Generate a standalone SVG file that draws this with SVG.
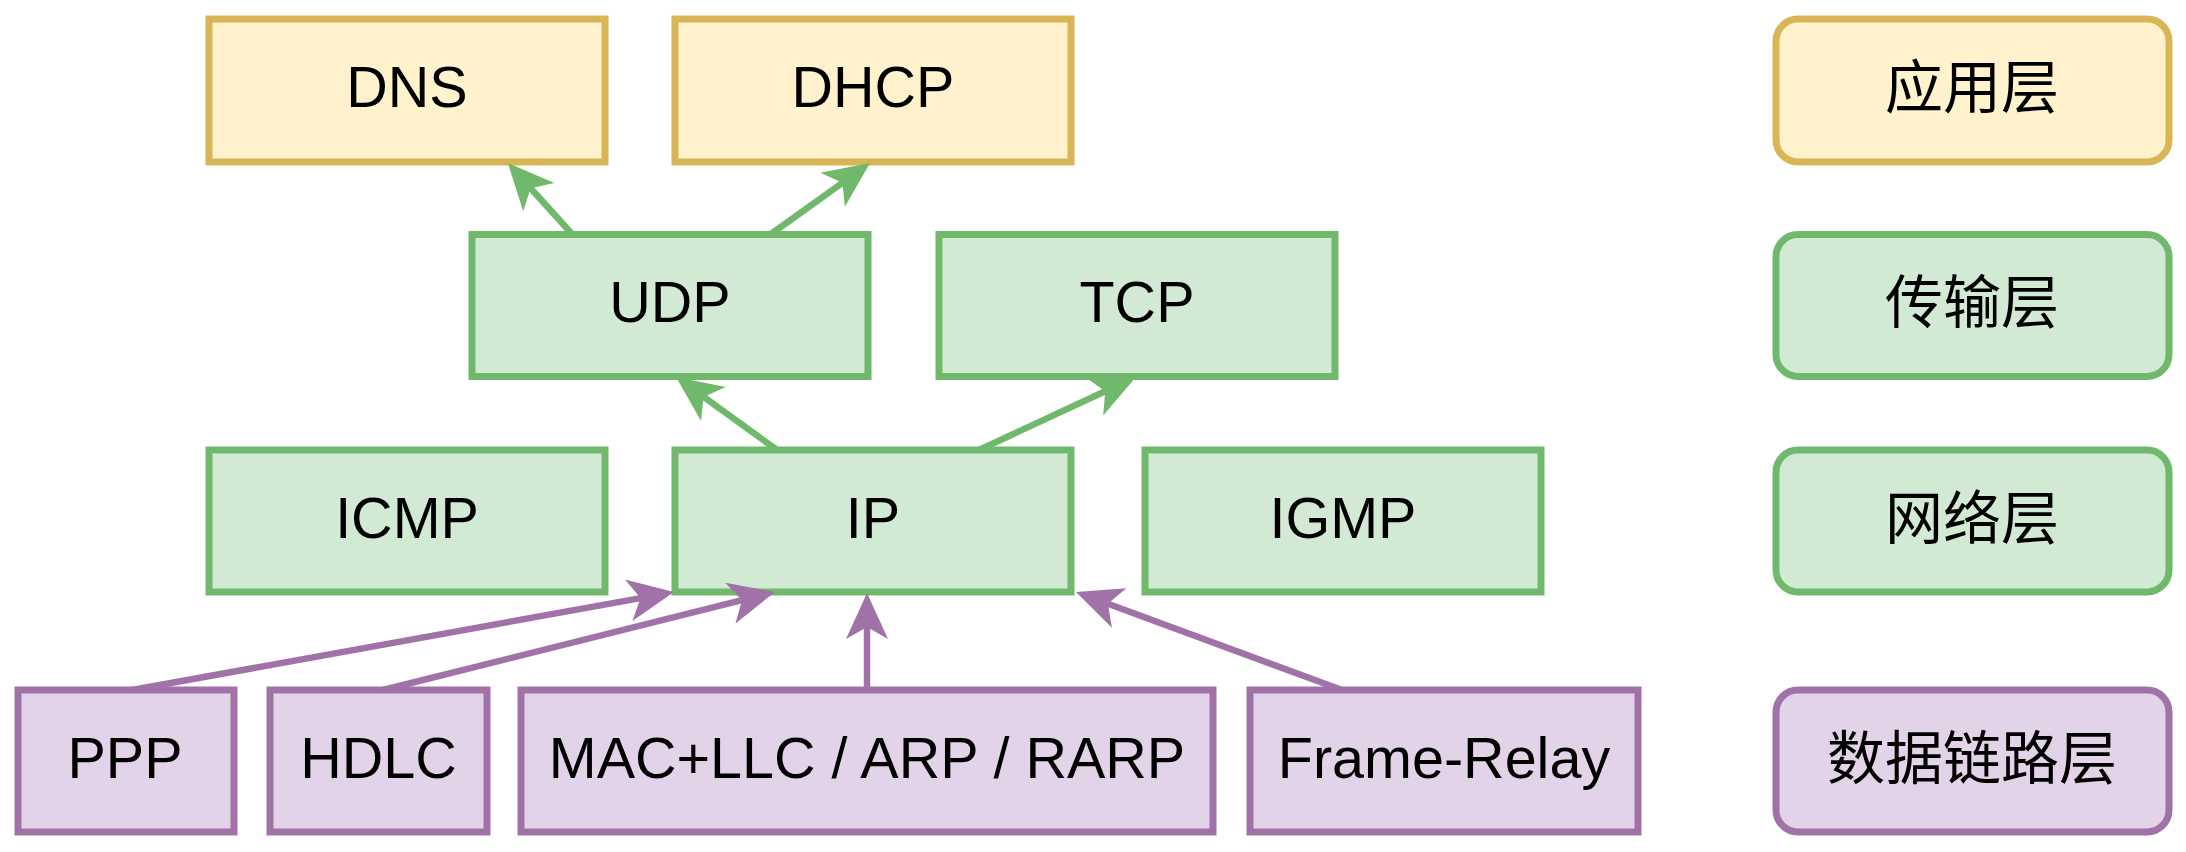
<svg xmlns="http://www.w3.org/2000/svg" width="2186" height="852" viewBox="0 0 2186 852">
  <style>
    .box { stroke-width: 7; }
    .y { fill: #fff2cc; stroke: #d9b655; }
    .g { fill: #d2e9d4; stroke: #70b96c; }
    .p { fill: #e3d3e8; stroke: #a072a8; }
    .t { font-family: "Liberation Sans", Arial, Helvetica, sans-serif; font-size: 57.5px; fill: #000; text-anchor: middle; }
    .c { font-family: "Noto Sans CJK SC", "Noto Sans CJK TC", sans-serif; font-size: 58px; fill: #000; text-anchor: middle; }
    .lg { stroke: #70b96c; stroke-width: 6.5; fill: none; }
    .lp { stroke: #a072a8; stroke-width: 6.5; fill: none; }
  </style>
  <defs>
    <marker id="ag" viewBox="-50 -25 55 50" refX="-34" refY="0" markerWidth="55" markerHeight="50" markerUnits="userSpaceOnUse" orient="auto">
      <path d="M0,0 L-46,-21 L-34,0 L-46,21 Z" fill="#70b96c"/>
    </marker>
    <marker id="ap" viewBox="-50 -25 55 50" refX="-34" refY="0" markerWidth="55" markerHeight="50" markerUnits="userSpaceOnUse" orient="auto">
      <path d="M0,0 L-46,-21 L-34,0 L-46,21 Z" fill="#a072a8"/>
    </marker>
  </defs>

  <g id="dns"><rect class="box y" x="209" y="19" width="396" height="143"/><text class="t" x="407" y="107">DNS</text></g>
  <g id="dhcp"><rect class="box y" x="675" y="19" width="396" height="143"/><text class="t" x="873" y="107">DHCP</text></g>
  <g id="app-layer"><rect class="box y" x="1776" y="19" width="393" height="143" rx="22"/><text class="c" x="1972" y="108">应用层</text></g>

  <g id="udp"><rect class="box g" x="472" y="234.5" width="396" height="142"/><text class="t" x="670" y="322">UDP</text></g>
  <g id="tcp"><rect class="box g" x="939" y="234.5" width="396" height="142"/><text class="t" x="1137" y="322">TCP</text></g>
  <g id="transport-layer"><rect class="box g" x="1776" y="234.5" width="393" height="142" rx="22"/><text class="c" x="1972" y="323">传输层</text></g>

  <g id="icmp"><rect class="box g" x="209" y="450" width="396" height="142"/><text class="t" x="407" y="538">ICMP</text></g>
  <g id="ip"><rect class="box g" x="675" y="450" width="396" height="142"/><text class="t" x="873" y="538">IP</text></g>
  <g id="igmp"><rect class="box g" x="1145" y="450" width="396" height="142"/><text class="t" x="1343" y="538">IGMP</text></g>
  <g id="network-layer"><rect class="box g" x="1776" y="450" width="393" height="142" rx="22"/><text class="c" x="1972" y="539">网络层</text></g>

  <g id="ppp"><rect class="box p" x="18" y="690" width="216" height="142"/><text class="t" x="125" y="778">PPP</text></g>
  <g id="hdlc"><rect class="box p" x="270" y="690" width="217" height="142"/><text class="t" x="378.5" y="778">HDLC</text></g>
  <g id="mac"><rect class="box p" x="521" y="690" width="692" height="142"/><text class="t" x="867" y="778">MAC+LLC / ARP / RARP</text></g>
  <g id="frame-relay"><rect class="box p" x="1250" y="690" width="388" height="142"/><text class="t" x="1444" y="778">Frame-Relay</text></g>
  <g id="datalink-layer"><rect class="box p" x="1776" y="690" width="393" height="142" rx="22"/><text class="c" x="1972" y="779">数据链路层</text></g>

  <g id="connectors">
    <path class="lg" d="M572,234 L530.7,188.3" marker-end="url(#ag)"/>
    <path class="lg" d="M771,234 L842.4,182.8" marker-end="url(#ag)"/>
    <path class="lg" d="M777,450 L703.6,396.9" marker-end="url(#ag)"/>
    <path class="lg" d="M979,450 L1105.2,391.3" marker-end="url(#ag)"/>
    <path class="lp" d="M132,690 L640.5,598.1" marker-end="url(#ap)"/>
    <path class="lp" d="M383,690 L742,600.2" marker-end="url(#ap)"/>
    <path class="lp" d="M867,690 L867,627" marker-end="url(#ap)"/>
    <path class="lp" d="M1342,690 L1107.9,603.8" marker-end="url(#ap)"/>
  </g>
</svg>
